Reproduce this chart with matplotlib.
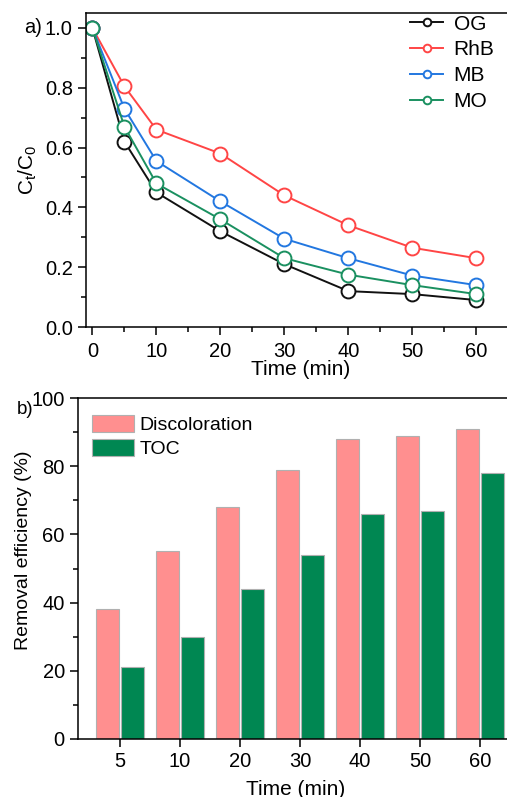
import numpy as np
import matplotlib.pyplot as plt
from matplotlib.ticker import MultipleLocator

plt.rcParams['font.family'] = ['Liberation Sans', 'DejaVu Sans']
plt.rcParams['mathtext.fontset'] = 'custom'
plt.rcParams['mathtext.rm'] = 'Liberation Sans'
plt.rcParams['mathtext.it'] = 'Liberation Sans'

# a) decay of the dyes
time = [0, 5, 10, 20, 30, 40, 50, 60]
og = [1.0, 0.62, 0.45, 0.32, 0.21, 0.12, 0.11, 0.09]
rhb = [1.0, 0.805, 0.66, 0.58, 0.44, 0.34, 0.265, 0.23]
mb = [1.0, 0.73, 0.555, 0.42, 0.295, 0.23, 0.172, 0.14]
mo = [1.0, 0.67, 0.48, 0.36, 0.23, 0.175, 0.14, 0.11]

# b) removal efficiency
bar_times = ['5', '10', '20', '30', '40', '50', '60']
discoloration = [38, 55, 68, 79, 88, 89, 91]
toc = [21, 30, 44, 54, 66, 67, 78]

FS = 14.5

fig = plt.figure(figsize=(5.07, 7.97), dpi=100)

ax1 = fig.add_axes([0.1696, 0.5897, 0.8458, 0.394])
series = [('OG', og, '#111111'), ('RhB', rhb, '#ff4545'),
          ('MB', mb, '#2277e0'), ('MO', mo, '#1a9060')]
for name, vals, col in series:
    ax1.plot(time, vals, '-o', color=col, lw=1.4, ms=10, mfc='white',
             mec=col, mew=1.4, label=name)
ax1.set_xlim(-1, 66)
ax1.set_ylim(0, 1.05)
ax1.xaxis.set_major_locator(MultipleLocator(10))
ax1.xaxis.set_minor_locator(MultipleLocator(5))
ax1.yaxis.set_major_locator(MultipleLocator(0.2))
ax1.yaxis.set_minor_locator(MultipleLocator(0.1))
ax1.yaxis.set_major_formatter(plt.FormatStrFormatter('%.1f'))
ax1.tick_params(which='both', direction='out', labelsize=FS, width=1.1)
ax1.tick_params(which='major', length=6)
ax1.tick_params(which='minor', length=3.5)
ax1.tick_params(axis='x', pad=5)
ax1.set_xlabel('Time (min)', fontsize=15, labelpad=-1)
ax1.set_ylabel('C$_t$/C$_0$', fontsize=15, labelpad=4)
ax1.text(-0.145, 1.0 / 1.05, 'a)', transform=ax1.transAxes, fontsize=FS,
         va='center', ha='left')
# the axes runs a little past the right edge of the figure
ax1.legend(loc='upper right', bbox_to_anchor=(0.982, 1.035), frameon=False,
           fontsize=15, markerscale=0.55, handlelength=1.6, handletextpad=0.5,
           labelspacing=0.33, borderaxespad=0.2)
for s in ax1.spines.values():
    s.set_linewidth(1.1)

ax2 = fig.add_axes([0.1538, 0.0728, 0.858, 0.4278])
x = np.arange(len(bar_times))
ax2.bar(x - 0.21, discoloration, width=0.38, color='#ff8f8f',
        edgecolor='#b0b0b0', lw=0.8, label='Discoloration')
ax2.bar(x + 0.21, toc, width=0.38, color='#008752',
        edgecolor='#b0b0b0', lw=0.8, label='TOC')
ax2.set_xlim(-0.7, 6.55)
ax2.set_ylim(0, 100)
ax2.set_xticks(x)
ax2.set_xticklabels(bar_times)
ax2.yaxis.set_major_locator(MultipleLocator(20))
ax2.yaxis.set_minor_locator(MultipleLocator(10))
ax2.tick_params(which='both', direction='out', labelsize=FS, width=1.1)
ax2.tick_params(which='major', length=6)
ax2.tick_params(which='minor', length=3.5)
ax2.set_xlabel('Time (min)', fontsize=15, labelpad=6)
ax2.set_ylabel('Removal efficiency (%)', fontsize=14)
ax2.yaxis.set_label_coords(-0.105, 0.554)
ax2.text(-0.14, 0.965, 'b)', transform=ax2.transAxes, fontsize=13.5,
         va='center', ha='left')
ax2.legend(loc='upper left', bbox_to_anchor=(0.005, 0.985), frameon=False,
           fontsize=14, handlelength=2.15, handleheight=1.0,
           handletextpad=0.3, labelspacing=0.25, borderaxespad=0.2)
for s in ax2.spines.values():
    s.set_linewidth(1.1)

fig.savefig('out.png', dpi=100, facecolor='white')
